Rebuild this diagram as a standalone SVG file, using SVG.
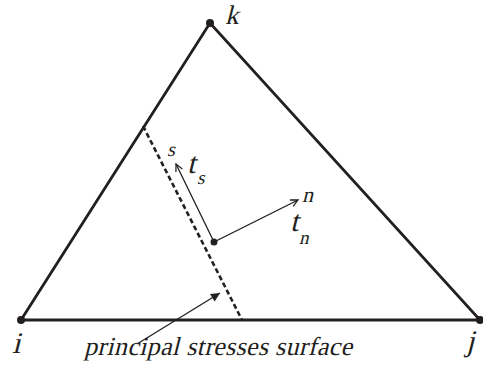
<svg xmlns="http://www.w3.org/2000/svg" width="483" height="368" viewBox="0 0 483 368">
<defs>
<style>
.edge{stroke:#231f20;stroke-width:2.8;fill:none;stroke-linecap:round}
.thin{stroke:#231f20;stroke-width:1.3;fill:none}
.lbl{font-family:"Liberation Serif","Times New Roman",serif;font-style:normal;fill:#231f20}
.dot{fill:#231f20}
</style>
<marker id="open" viewBox="0 0 10 10" refX="9" refY="5" markerWidth="9" markerHeight="9" markerUnits="userSpaceOnUse" orient="auto">
<path d="M1,1 L9,5 L1,9" fill="none" stroke="#231f20" stroke-width="1.4"/>
</marker>
<marker id="solid" viewBox="0 0 10 10" refX="10" refY="5" markerWidth="11" markerHeight="9" markerUnits="userSpaceOnUse" orient="auto">
<path d="M0,0 L10,5 L0,10 Z" fill="#231f20"/>
</marker>
</defs>
<g id="connectors">
<path class="edge" d="M21,320 L210,23 L480,320 Z"/>
<line x1="143" y1="126" x2="242" y2="320" stroke="#231f20" stroke-width="2.6" stroke-dasharray="5,3"/>
<line class="thin" x1="214" y1="242" x2="176" y2="164" marker-end="url(#open)"/>
<line class="thin" x1="214" y1="242" x2="298" y2="200" marker-end="url(#open)"/>
<line class="thin" x1="137" y1="344" x2="220" y2="293" marker-end="url(#solid)"/>
</g>
<g id="node-i"><circle class="dot" cx="21" cy="320" r="4"/><text class="lbl" transform="translate(12,353) skewX(-14)" font-size="30">i</text></g>
<g id="node-j"><circle class="dot" cx="480" cy="320" r="4"/><text class="lbl" transform="translate(466,351) skewX(-14)" font-size="30">j</text></g>
<g id="node-k"><circle class="dot" cx="210" cy="23" r="4"/><text class="lbl" transform="translate(225,24) skewX(-14)" font-size="27">k</text></g>
<g id="node-point"><circle class="dot" cx="214" cy="242" r="3.5"/></g>
<g id="label-ts"><text class="lbl" transform="translate(167,156) skewX(-14)" font-size="20">s</text><text class="lbl" transform="translate(187,173) skewX(-14)" font-size="30">t</text><text class="lbl" transform="translate(197,184) skewX(-14)" font-size="19">s</text></g>
<g id="label-tn"><text class="lbl" transform="translate(302,202) skewX(-14)" font-size="22">n</text><text class="lbl" transform="translate(290,231) skewX(-14)" font-size="30">t</text><text class="lbl" transform="translate(299,244) skewX(-14)" font-size="19">n</text></g>
<g id="label-surface"><text class="lbl" transform="translate(84,355) skewX(-14)" font-size="26" textLength="268" lengthAdjust="spacing">principal stresses surface</text></g>
</svg>
